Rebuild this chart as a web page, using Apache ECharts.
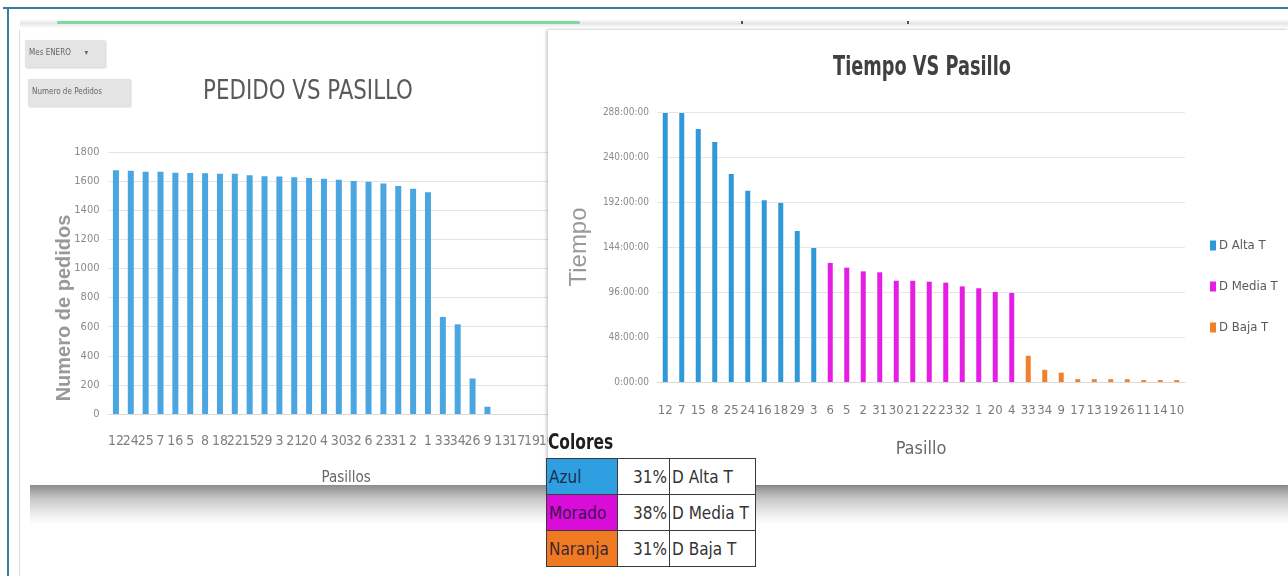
<!DOCTYPE html>
<html>
<head>
<meta charset="utf-8">
<title>Pedido y Tiempo VS Pasillo</title>
<script src="https://cdn.jsdelivr.net/npm/echarts@6/dist/echarts.min.js"></script>
<style>
  html, body { margin: 0; padding: 0; background: #fff; }
  body {
    width: 1288px; height: 576px; position: relative; overflow: hidden;
    font-family: "Liberation Sans Narrow", "DejaVu Sans Condensed", "Open Sans", sans-serif;
  }
  .abs { position: absolute; }
  #frameTop { left: 3px; top: 7px; width: 1285px; height: 2px; background: #3d7c9c; }
  #frameLeft { left: 7px; top: 7px; width: 2px; height: 569px; background: #3d7c9c; }
  #strip { left: 20px; top: 19px; width: 1268px; height: 9px;
           background: linear-gradient(to bottom, #fff, #e6e6e6 50%, #fff); }
  #progress { left: 57px; top: 21px; width: 523px; height: 3px; background: #7fd8a2; border-radius: 2px; }
  .mark { top: 21px; width: 2px; height: 3px; background: #555; }
  #panelLine { left: 19px; top: 30px; width: 1px; height: 546px; background: #dcdcdc; }
  #leftChart { left: 20px; top: 30px; width: 580px; height: 455px; }
  #rightChart { left: 548px; top: 30px; width: 740px; height: 455px; background: #fff;
                box-shadow: -2px 0 3px rgba(0,0,0,0.18), 0 -1px 2px rgba(0,0,0,0.10); }
  #bottomShadow { left: 30px; top: 485px; width: 1258px; height: 40px;
                  background: linear-gradient(to bottom, #8c8c8c, #c8c8c8 35%, #f4f4f4 80%, #fff); }
  .btn { background: #e4e4e4; color: #666; font-size: 8px; line-height: 26px; padding-left: 4px;
         box-shadow: 1px 1px 2px rgba(0,0,0,0.2); box-sizing: border-box; }
  #btnMes { left: 25px; top: 40px; width: 80px; height: 27px; }
  #btnPed { left: 28px; top: 79px; width: 102px; height: 27px; }
  #coloresTitle { left: 548px; top: 430px; font-size: 21px; font-weight: bold; color: #1e1e1e;
                  transform: scaleX(0.82); transform-origin: left center; }
  #tabla { left: 546px; top: 458px; border-collapse: collapse; font-size: 17px; color: #333; background: #fff; }
  #tabla td { border: 1.5px solid #3a3a3a; height: 36px; padding: 0 2px; box-sizing: border-box; }
  #tabla td.c1 { width: 71px; color: rgba(20,20,50,0.85); }
  #tabla td.c2 { width: 52px; text-align: right; }
  #tabla td.c3 { width: 86px; }
</style>
</head>
<body>
<div id="frameTop" class="abs"></div>
<div id="frameLeft" class="abs"></div>
<div id="strip" class="abs"></div>
<div id="progress" class="abs"></div>
<div class="abs mark" style="left:741px"></div>
<div class="abs mark" style="left:907px"></div>
<div id="panelLine" class="abs"></div>
<div id="leftChart" class="abs"></div>
<div id="btnMes" class="abs btn">Mes ENERO &nbsp;&nbsp;&nbsp;&nbsp;&nbsp;&#9662;</div>
<div id="btnPed" class="abs btn">Numero de Pedidos</div>
<div id="bottomShadow" class="abs"></div>
<div id="rightChart" class="abs"></div>
<div id="coloresTitle" class="abs">Colores</div>
<table id="tabla" class="abs"></table>

<script>
// Número de pedidos por pasillo (mes de enero)
const pedidoPasillos = ['12','24','25','7','16','5','8','18','22','15','29','3','21','20','4','30',
                        '32','6','23','31','2','1','33','34','26','9','13','17','19','10','11','14'];
const pedidos = [1674,1672,1665,1664,1658,1655,1654,1651,1650,1641,1633,1631,1627,1621,1617,1610,
                 1601,1596,1584,1566,1548,1524,667,616,244,50,0,0,0,0,0,0];
const pedidoTicks = { min: 0, max: 1800, interval: 200 };

// Tiempo (horas) por pasillo, agrupado por demanda
const tiempoPasillos = ['12','7','15','8','25','24','16','18','29','3',
                        '6','5','2','31','30','21','22','23','32','1','20','4',
                        '33','34','9','17','13','19','26','11','14','10'];
const altaHoras  = [287,287,270,256,222,204,194,191,161,143];
const mediaHoras = [127,122,118,117,108,108,107,106,102,100,96,95];
const bajaHoras  = [28,13,10,3,3,3,3,2,2,2];
const tiempoTicks = { min: 0, max: 288, interval: 48 };

// Tabla de colores
const coloresNombre = ['Azul', 'Morado', 'Naranja'];
const coloresPct    = ['31%', '38%', '31%'];
const coloresGrupo  = ['D Alta T', 'D Media T', 'D Baja T'];
const coloresHex    = ['#2e9fe0', '#d90cd9', '#f07a22'];

const NARROW = '"Liberation Sans Narrow", "DejaVu Sans Condensed", sans-serif';
const serieColor = ['#2f98d9', '#e41ee4', '#f0802c'];

// Texto condensado horizontalmente (títulos y nombres de eje)
function narrowText(text, x, y, font, fill, scaleX, rotation) {
  return {
    type: 'text', x: x, y: y, scaleX: scaleX || 1, rotation: rotation || 0,
    style: { text: text, font: font, fill: fill, align: 'center', verticalAlign: 'middle' }
  };
}

// ---- Gráfico izquierdo: PEDIDO VS PASILLO ----
const left = echarts.init(document.getElementById('leftChart'), null, { renderer: 'canvas' });
left.setOption({
  animation: false,
  graphic: [
    narrowText('PEDIDO VS PASILLO', 288, 62, '27px "DejaVu Sans Condensed", sans-serif', '#5a5a5a', 0.88),
    narrowText('Numero de pedidos', 44, 278, 'bold 20px "Liberation Sans", Arial, sans-serif', '#999', 1, Math.PI / 2)
  ],
  grid: { left: 88.5, top: 122, width: 475.5, height: 262, outerBoundsMode: 'none', containLabel: false },
  xAxis: {
    type: 'category', data: pedidoPasillos,
    axisTick: { show: false },
    axisLine: { lineStyle: { color: '#d9d9d9' } },
    axisLabel: { interval: 0, color: '#808080', fontFamily: NARROW, fontSize: 14, margin: 20 },
    name: 'Pasillos', nameLocation: 'middle', nameGap: 57,
    nameTextStyle: { fontFamily: NARROW, fontSize: 15, color: '#666' }
  },
  yAxis: {
    type: 'value', min: pedidoTicks.min, max: pedidoTicks.max, interval: pedidoTicks.interval,
    axisLine: { show: false }, axisTick: { show: false },
    axisLabel: { color: '#8a8a8a', fontFamily: NARROW, fontSize: 11, margin: 9, formatter: v => String(v) },
    splitLine: { lineStyle: { color: '#e4e4e4' } }
  },
  series: [{
    type: 'bar', data: pedidos, barWidth: 6,
    itemStyle: { color: '#4aa6e1' }
  }]
});

// ---- Gráfico derecho: Tiempo VS Pasillo ----
function pad(values, before, after) {
  return Array(before).fill('-').concat(values, Array(after).fill('-'));
}
const nA = altaHoras.length, nM = mediaHoras.length, nB = bajaHoras.length;
const right = echarts.init(document.getElementById('rightChart'), null, { renderer: 'canvas' });
right.setOption({
  animation: false,
  backgroundColor: '#fff',
  color: serieColor,
  graphic: [
    narrowText('Tiempo VS Pasillo', 374, 38, 'bold 27px "DejaVu Sans Condensed", sans-serif', '#404040', 0.73),
    narrowText('Tiempo', 31, 217, '24px "Liberation Sans", Arial, sans-serif', '#9a9a9a', 1, Math.PI / 2)
  ],
  legend: {
    orient: 'vertical', left: 657, top: 204, itemWidth: 6, itemHeight: 10, itemGap: 28,
    icon: 'rect',
    textStyle: { fontFamily: NARROW, fontSize: 13, color: '#595959', padding: [0, 0, 0, -2] }
  },
  grid: { left: 109, top: 82, width: 528, height: 270, outerBoundsMode: 'none', containLabel: false },
  xAxis: {
    type: 'category', data: tiempoPasillos,
    axisTick: { show: false },
    axisLine: { lineStyle: { color: '#d9d9d9' } },
    axisLabel: { interval: 0, color: '#7a7a7a', fontFamily: NARROW, fontSize: 13, margin: 22 },
    name: 'Pasillo', nameLocation: 'middle', nameGap: 58,
    nameTextStyle: { fontFamily: NARROW, fontSize: 18, color: '#6a6a6a' }
  },
  yAxis: {
    type: 'value', min: tiempoTicks.min, max: tiempoTicks.max, interval: tiempoTicks.interval,
    axisLine: { show: false }, axisTick: { show: false },
    axisLabel: { color: '#8a8a8a', fontFamily: NARROW, fontSize: 10, margin: 8,
                 formatter: v => v + ':00:00' },
    splitLine: { lineStyle: { color: '#e6e6e6' } }
  },
  series: [
    { name: 'D Alta T', type: 'bar', stack: 't', barWidth: 5, data: pad(altaHoras, 0, nM + nB) },
    { name: 'D Media T', type: 'bar', stack: 't', barWidth: 5, data: pad(mediaHoras, nA, nB) },
    { name: 'D Baja T', type: 'bar', stack: 't', barWidth: 5, data: pad(bajaHoras, nA + nM, 0) }
  ]
});

// ---- Tabla "Colores" ----
const tabla = document.getElementById('tabla');
coloresNombre.forEach((nombre, i) => {
  const tr = document.createElement('tr');
  tr.innerHTML = '<td class="c1" style="background:' + coloresHex[i] + '">' + nombre + '</td>' +
                 '<td class="c2">' + coloresPct[i] + '</td>' +
                 '<td class="c3">' + coloresGrupo[i] + '</td>';
  tabla.appendChild(tr);
});
</script>
</body>
</html>
